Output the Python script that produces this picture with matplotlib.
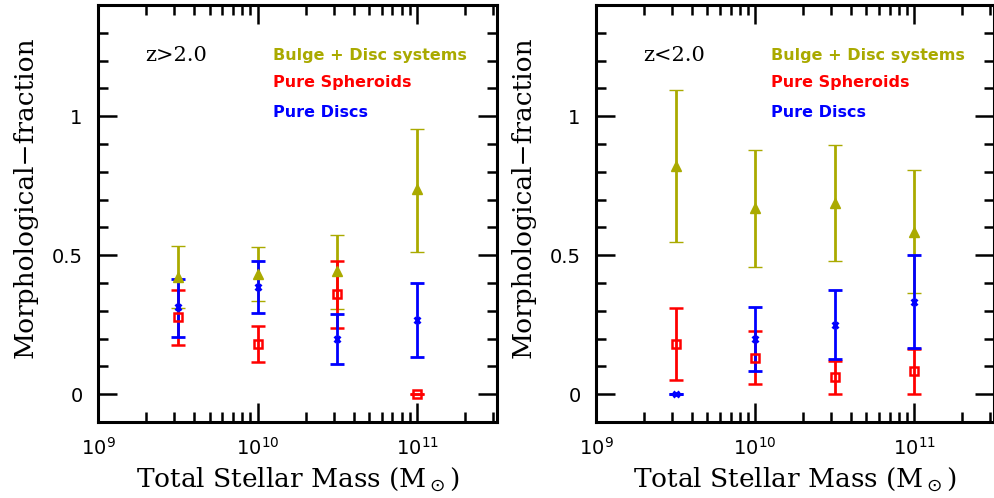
import numpy as np
import matplotlib
matplotlib.use("Agg")
import matplotlib.pyplot as plt
from matplotlib.ticker import FixedLocator, NullFormatter

# stellar mass bins (log10 Msun)
logmass = [9.5, 10.0, 10.5, 11.0]

# z > 2.0 panel: value, lower error, upper error
hi_bd = [0.42, 0.434, 0.444, 0.737]
hi_bd_lo = [0.11, 0.10, 0.138, 0.225]
hi_bd_hi = [0.113, 0.097, 0.129, 0.216]
hi_sph = [0.276, 0.180, 0.360, 0.0]
hi_sph_lo = [0.099, 0.064, 0.121, 0.0]
hi_sph_hi = [0.098, 0.065, 0.120, 0.0]
hi_disc = [0.312, 0.386, 0.200, 0.266]
hi_disc_lo = [0.106, 0.093, 0.092, 0.133]
hi_disc_hi = [0.102, 0.094, 0.089, 0.134]

# z < 2.0 panel
lo_bd = [0.821, 0.668, 0.687, 0.585]
lo_bd_lo = [0.275, 0.212, 0.207, 0.222]
lo_bd_hi = [0.273, 0.211, 0.210, 0.222]
lo_sph = [0.180, 0.132, 0.061, 0.082]
lo_sph_lo = [0.128, 0.094, 0.061, 0.082]
lo_sph_hi = [0.129, 0.096, 0.059, 0.082]
lo_disc = [0.0, 0.200, 0.248, 0.333]
lo_disc_lo = [0.0, 0.117, 0.123, 0.166]
lo_disc_hi = [0.0, 0.114, 0.127, 0.167]

olive = "#aaaa00"
serif = "DejaVu Serif"

fig = plt.figure(figsize=(9.94, 4.98), dpi=100)
W, H = 994.0, 498.0
ax1 = fig.add_axes([98 / W, 76 / H, 399 / W, 417 / H])
ax2 = fig.add_axes([596 / W, 76 / H, 398 / W, 417 / H])

panels = [
    (ax1, "z>2.0", hi_bd, hi_bd_lo, hi_bd_hi, hi_sph, hi_sph_lo, hi_sph_hi,
     hi_disc, hi_disc_lo, hi_disc_hi),
    (ax2, "z<2.0", lo_bd, lo_bd_lo, lo_bd_hi, lo_sph, lo_sph_lo, lo_sph_hi,
     lo_disc, lo_disc_lo, lo_disc_hi),
]

mass = 10 ** np.array(logmass)

for ax, ztxt, bd, bdl, bdh, sp, spl, sph, dc, dcl, dch in panels:
    ax.errorbar(mass, bd, yerr=[bdl, bdh], fmt="^", color=olive, ms=7,
                elinewidth=2, capsize=5, capthick=2, mew=1)
    ax.errorbar(mass, sp, yerr=[spl, sph], fmt="s", color="red", ms=6,
                mfc="none", mew=1.8, elinewidth=2, capsize=5, capthick=2)
    ax.errorbar(mass, dc, yerr=[dcl, dch], fmt="x", color="blue", ms=5,
                mew=2, elinewidth=2, capsize=5, capthick=2)

    ax.set_xscale("log")
    ax.set_xlim(1e9, 10 ** 11.5)
    ax.set_ylim(-0.1, 1.4)

    ax.xaxis.set_major_locator(FixedLocator([1e9, 1e10, 1e11]))
    ax.xaxis.set_minor_locator(FixedLocator(
        [m * d for d in [1e9, 1e10, 1e11] for m in range(2, 10) if m * d < 10 ** 11.5]))
    ax.xaxis.set_minor_formatter(NullFormatter())
    ax.set_xticklabels(["$10^{9}$", "$10^{10}$", "$10^{11}$"])
    ax.yaxis.set_major_locator(FixedLocator([0, 0.5, 1]))
    ax.yaxis.set_minor_locator(FixedLocator(np.arange(-0.1, 1.41, 0.1)))
    ax.set_yticklabels(["0", "0.5", "1"])

    ax.tick_params(which="both", direction="in", top=True, right=True, width=1.8)
    ax.tick_params(which="major", length=14, labelsize=14, pad=11)
    ax.tick_params(which="minor", length=7)
    for s in ax.spines.values():
        s.set_linewidth(2.2)

    ax.set_xlabel(r"Total Stellar Mass (M$_\odot$)", fontsize=19, family=serif,
                  labelpad=5)
    ax.set_ylabel("Morphological\u2212fraction", fontsize=19, family=serif,
                  labelpad=10)
    ax.yaxis.label.set_y(0.54)

    ax.text(0.118, 0.88, ztxt, transform=ax.transAxes, fontsize=15, family=serif,
            va="center")
    ax.text(0.439, 0.88, "Bulge + Disc systems", transform=ax.transAxes,
            color=olive, fontsize=11.5, fontweight="bold", va="center")
    ax.text(0.439, 0.813, "Pure Spheroids", transform=ax.transAxes,
            color="red", fontsize=11.5, fontweight="bold", va="center")
    ax.text(0.439, 0.743, "Pure Discs", transform=ax.transAxes,
            color="blue", fontsize=11.5, fontweight="bold", va="center")

plt.savefig("out.png", dpi=100)
